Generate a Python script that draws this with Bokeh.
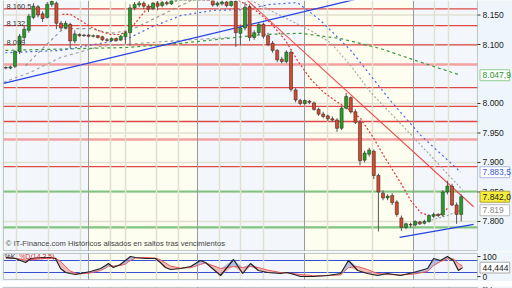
import numpy as np
from bokeh.plotting import figure
from bokeh.layouts import column
from bokeh.models import FixedTicker, Grid, Range1d, BoxAnnotation
from bokeh.core.properties import value
from bokeh.embed import file_html
from bokeh.resources import INLINE

# ---------------- data ----------------
opens = [8.061, 8.060, 8.063, 8.088, 8.112, 8.124, 8.146, 8.164, 8.152, 8.146,
         8.168, 8.170, 8.136, 8.128, 8.134, 8.106, 8.117, 8.115, 8.116, 8.114,
         8.115, 8.113, 8.108, 8.107, 8.110, 8.108, 8.113, 8.120, 8.162, 8.167,
         8.170, 8.165, 8.161, 8.170, 8.166, 8.171, 8.169, 8.175, 8.181, 8.184,
         8.187, 8.183, 8.188, 8.182, 8.179, 8.177, 8.167, 8.169, 8.172, 8.166,
         8.173, 8.119, 8.128, 8.164, 8.112, 8.120, 8.134, 8.115, 8.102, 8.090,
         8.075, 8.071, 8.087, 8.023, 8.005, 8.000, 8.004, 8.001, 7.990, 7.982,
         7.979, 7.974, 7.972, 7.958, 7.992, 8.010, 7.986, 7.968, 7.904, 7.914,
         7.919, 7.878, 7.848, 7.840, 7.844, 7.833, 7.806, 7.790, 7.795, 7.794,
         7.799, 7.797, 7.800, 7.809, 7.812, 7.811, 7.850, 7.860, 7.828, 7.812]
highs = [8.063, 8.064, 8.090, 8.118, 8.132, 8.152, 8.170, 8.167, 8.156, 8.172,
         8.180, 8.173, 8.140, 8.140, 8.137, 8.124, 8.119, 8.118, 8.118, 8.117,
         8.116, 8.115, 8.111, 8.112, 8.112, 8.116, 8.122, 8.168, 8.172, 8.174,
         8.173, 8.168, 8.172, 8.173, 8.174, 8.175, 8.177, 8.184, 8.188, 8.190,
         8.190, 8.190, 8.191, 8.185, 8.182, 8.179, 8.173, 8.175, 8.174, 8.176,
         8.178, 8.134, 8.172, 8.168, 8.124, 8.138, 8.137, 8.120, 8.106, 8.092,
         8.079, 8.090, 8.090, 8.026, 8.008, 8.007, 8.006, 8.003, 7.993, 7.986,
         7.981, 7.978, 7.975, 7.996, 8.018, 8.012, 7.990, 7.972, 7.920, 7.925,
         7.922, 7.881, 7.853, 7.846, 7.848, 7.836, 7.810, 7.798, 7.798, 7.802,
         7.801, 7.803, 7.812, 7.815, 7.814, 7.853, 7.869, 7.864, 7.832, 7.846]
lows = [8.058, 8.058, 8.060, 8.084, 8.106, 8.120, 8.143, 8.146, 8.138, 8.144,
        8.164, 8.126, 8.124, 8.126, 8.094, 8.102, 8.113, 8.113, 8.112, 8.112,
        8.110, 8.106, 8.105, 8.105, 8.105, 8.106, 8.101, 8.098, 8.158, 8.163,
        8.160, 8.155, 8.158, 8.158, 8.163, 8.166, 8.167, 8.172, 8.178, 8.181,
        8.180, 8.181, 8.180, 8.176, 8.174, 8.164, 8.164, 8.166, 8.163, 8.164,
        8.096, 8.098, 8.124, 8.106, 8.108, 8.116, 8.110, 8.097, 8.086, 8.070,
        8.068, 8.068, 8.020, 8.002, 7.997, 7.998, 7.999, 7.988, 7.979, 7.975,
        7.970, 7.969, 7.952, 7.955, 7.990, 7.983, 7.965, 7.895, 7.900, 7.910,
        7.872, 7.783, 7.836, 7.836, 7.828, 7.808, 7.784, 7.787, 7.790, 7.792,
        7.794, 7.795, 7.798, 7.806, 7.807, 7.808, 7.846, 7.826, 7.796, 7.800]
closes = [8.060, 8.062, 8.088, 8.114, 8.126, 8.148, 8.165, 8.150, 8.144, 8.168,
          8.173, 8.136, 8.128, 8.136, 8.106, 8.118, 8.115, 8.116, 8.114, 8.115,
          8.112, 8.108, 8.107, 8.110, 8.107, 8.114, 8.120, 8.162, 8.168, 8.170,
          8.165, 8.160, 8.170, 8.165, 8.171, 8.169, 8.175, 8.181, 8.184, 8.187,
          8.183, 8.188, 8.182, 8.179, 8.177, 8.167, 8.170, 8.172, 8.166, 8.173,
          8.120, 8.128, 8.163, 8.112, 8.120, 8.134, 8.114, 8.100, 8.090, 8.074,
          8.071, 8.087, 8.024, 8.006, 8.000, 8.005, 8.002, 7.990, 7.982, 7.978,
          7.974, 7.972, 7.958, 7.992, 8.012, 7.986, 7.968, 7.903, 7.916, 7.921,
          7.878, 7.850, 7.840, 7.843, 7.832, 7.812, 7.790, 7.796, 7.794, 7.800,
          7.796, 7.800, 7.810, 7.812, 7.810, 7.850, 7.860, 7.828, 7.812, 7.842]

# indicator lines (bar index, price)
red_ma_a_x = [12.3, 14.1, 16.2, 18.4, 20.6, 22.8, 24.9, 26.7, 28.2, 30.4, 32.5, 34.7]
red_ma_a_y = [8.151, 8.151, 8.141, 8.130, 8.122, 8.117, 8.117, 8.124, 8.137, 8.158, 8.170, 8.180]
red_ma_b_x = [50.6, 54.3, 57.5, 60.8, 63.4, 66.2, 69.1, 72.1, 75.0, 77.1, 79.9, 82.5, 85.8, 88.0, 90.2, 92.3, 94.5, 96.0]
red_ma_b_y = [8.175, 8.158, 8.137, 8.107, 8.073, 8.042, 8.019, 8.002, 7.988, 7.975, 7.942, 7.907, 7.866, 7.836, 7.815, 7.809, 7.812, 7.822]
gray_ma_a_x = [4.3, 8.6, 12.5, 18.4, 22.8, 27.1, 31.5, 38.0, 41.2]
gray_ma_a_y = [8.064, 8.098, 8.127, 8.127, 8.119, 8.124, 8.141, 8.166, 8.178]
gray_ma_b_x = [-0.5, 5.4, 11.9, 20.6, 29.3, 38.0, 48.8]
gray_ma_b_y = [8.036, 8.053, 8.078, 8.097, 8.102, 8.107, 8.112]
gray_ma_c_x = [53.2, 59.7, 66.2, 70.6, 75.0, 79.3, 85.8, 92.3, 96.7, 99.3]
gray_ma_c_y = [8.175, 8.149, 8.124, 8.103, 8.064, 8.019, 7.966, 7.912, 7.875, 7.853]
gray_ma_d_x = [89.1, 92.3, 95.6, 98.9]
gray_ma_d_y = [7.798, 7.802, 7.809, 7.819]
blue_ma_x = [-0.1, 11.9, 26.5, 31.5, 38.0, 45.2, 51.7, 57.5, 63.4, 68.4, 75.0, 83.6, 90.2, 98.9]
blue_ma_y = [8.086, 8.090, 8.110, 8.129, 8.149, 8.158, 8.159, 8.168, 8.171, 8.141, 8.090, 8.005, 7.946, 7.8835]
green_ma_x = [-0.1, 26.5, 38.0, 56.0, 64.1, 72.8, 81.5, 90.2, 98.9]
green_ma_y = [8.090, 8.095, 8.102, 8.117, 8.119, 8.110, 8.093, 8.070, 8.0479]
trend_blue_up_x = [-0.5, 80.0]
trend_blue_up_y = [8.034, 8.184]
trend_blue_low_x = [85.6, 101.7]
trend_blue_low_y = [7.773, 7.795]
trend_red_x = [52.5, 101.7]
trend_red_y = [8.175, 7.825]

price_ticks = [7.80, 7.85, 7.90, 7.95, 8.00, 8.10, 8.15]
price_tick_labels = ["7.800", "7.850", "7.900", "7.950", "8.000", "8.100", "8.150"]
red_levels = [8.1605, 8.132, 8.0995, 8.027, 7.995, 7.9695, 7.893]
pink_levels = [8.066, 7.939]
green_levels = [7.8508, 7.790]
left_level_values = [8.1605, 8.132, 8.0995]
left_level_texts = ["8.160,5", "8.132", "8.099"]
tag_values = [8.0479, 7.8835, 7.842, 7.819]
tag_texts = ["8.047,9", "7.883,5", "7.842,0", "7.819"]

day_lines = [2.33, 9.28, 16.24, 22.76, 26.02, 32.76, 37.54, 46.45, 51.02, 56.02, 69.93, 79.72, 93.2, 96.24]
month_lines = [17.98, 41.67, 64.93, 88.63]

stoch_x = [0, 2.1, 4.3, 5.4, 7.5, 9.7, 10.8, 11.9, 13.0, 14.0, 15.2, 16.2, 18.4, 20.6, 21.7, 22.3,
           23.4, 24.9, 26.0, 27.1, 28.2, 30.4, 32.5, 33.6, 34.7, 35.8, 38.0, 40.2, 42.3, 43.4, 46.7,
           49.5, 51.5, 53.2, 54.9, 56.9, 59.7, 61.2, 64.1, 66.9, 69.9, 72.8, 74.5, 76.5, 78.6, 80.8,
           83.0, 85.8, 88.6, 91.7, 93.0, 94.5, 96.0, 97.3, 98.4, 99.3]
stoch_k = [95, 90, 70, 90, 95, 95, 90, 40, 20, 15, 10, 15, 25, 40, 55, 65, 45, 60, 80, 100,
           95, 90, 90, 70, 45, 35, 40, 50, 80, 70, 5, 85, 15, 65, 30, 20, 15, 20, 0, 0,
           5, 15, 80, 30, 15, 5, 15, 5, 20, 40, 90, 80, 100, 80, 30, 44.4]
stoch_d = [92, 91, 82, 84, 88, 93, 92, 75, 50, 28, 16, 13, 18, 30, 42, 52, 52, 55, 62, 80,
           92, 95, 92, 84, 68, 52, 42, 44, 60, 68, 40, 50, 45, 50, 45, 32, 20, 18, 10, 4,
           4, 8, 45, 50, 35, 15, 10, 8, 12, 25, 55, 75, 88, 88, 65, 52]
stoch_levels = [80, 20]
stoch_ticks = [0, 100]
stoch_tick_labels = ["0", "100"]
stoch_last = 44.444

osc_x = [0, 5, 6.5, 8, 9.5, 11, 12, 26, 27.5, 29, 31, 32.5, 34, 35, 94, 95.5, 96.5, 97.5, 99]
osc_v = [10, 10, 20.2, 20.6, 20.3, 19.5, 10, 10, 20.3, 20.7, 20.6, 20.2, 19.5, 10, 10, 20.3, 20.8, 20.2, 10]

# ---------------- styling / geometry ----------------
FONT = value("Liberation Sans")
BG_YEL = "#fdfdf0"
BG_BLU = "#f3f7fb"
BORDER = "#eef6fb"
XMIN, XMAX = -1.152, 110.152      # whole canvas width
X0, X1 = -0.5, 102.54             # plotting area of every panel
TICK_X1 = X1 + 0.65
LABEL_X = X1 + 1.1
TAG_L, TAG_R = X1 + 0.55, X1 + 7.0
xr = Range1d(XMIN, XMAX)
breaks = [X0] + month_lines + [X1]


def make(height, y0, y1):
    p = figure(width=512, height=height, x_range=xr, y_range=Range1d(y0, y1),
               output_backend="svg", toolbar_location=None, title=None,
               x_axis_location=None, y_axis_location=None,
               min_border_left=0, min_border_right=0, min_border_top=0, min_border_bottom=0)
    p.background_fill_color = BG_YEL
    p.border_fill_color = BORDER
    p.outline_line_color = None
    p.xgrid.visible = False
    p.ygrid.visible = False
    for k in range(len(breaks) - 1):
        if k % 2 == 0:
            p.quad(left=breaks[k], right=breaks[k + 1], bottom=y0 - 1, top=y1 + 1,
                   fill_color=BG_BLU, line_color=None, level="image")
    p.add_layout(Grid(dimension=0, ticker=FixedTicker(ticks=day_lines),
                      grid_line_color="#e2e0d0", grid_line_width=1.5))
    p.add_layout(Grid(dimension=0, ticker=FixedTicker(ticks=month_lines),
                      grid_line_color="#9a9a9a", grid_line_width=1))
    return p


def frame_and_margin(p, y0, y1, top, bottom):
    p.quad(left=[XMIN, X1], right=[X0, XMAX], bottom=y0 - 1, top=y1 + 1,
           fill_color=BORDER, line_color=None)
    p.quad(left=XMIN, right=XMAX, bottom=[y0 - 1, top], top=[bottom, y1 + 1],
           fill_color=BORDER, line_color=None)


def outline(p, top, bottom):
    p.add_layout(BoxAnnotation(left=X0, right=X1, bottom=bottom, top=top, fill_alpha=0,
                               line_color="#4e5a5a", line_width=1, level="overlay"))


def tag(p, y, half, text, tc, bg, bc):
    p.quad(left=TAG_L, right=TAG_R, bottom=y - half, top=y + half,
           fill_color=bg, line_color=bc, line_width=1)
    p.text(x=[LABEL_X], y=[y], text=[text], text_font=FONT, text_font_size="8.5px",
           text_color=tc, text_baseline="middle")


def axis_labels(p, ticks, labels):
    p.segment(x0=[X1] * len(ticks), y0=ticks, x1=[TICK_X1] * len(ticks), y1=ticks,
              line_color="#333333", line_width=1)
    p.text(x=[LABEL_X] * len(ticks), y=ticks, text=labels, text_font=FONT,
           text_font_size="8.5px", text_color="#222222", text_baseline="middle")


# ---------------- main price panel ----------------
PX = 0.4238 / 250.0
Y_TOP, Y_BOT = 8.1746, 7.7508
p1 = make(251, Y_BOT - PX, Y_TOP)
p1.segment(x0=X0, x1=X1, y0=price_ticks, y1=price_ticks, line_color="#e2e0d0",
           line_width=1.5, level="underlay")
p1.segment(x0=X0, x1=X1, y0=red_levels, y1=red_levels, line_color="#e04848",
           line_width=1.3, level="underlay")
p1.segment(x0=X0, x1=X1, y0=pink_levels, y1=pink_levels, line_color="#f3a0a0",
           line_width=2.5, level="underlay")
p1.segment(x0=X0, x1=X1, y0=green_levels, y1=green_levels, line_color="#80c480",
           line_width=2.2, level="underlay")

p1.line(gray_ma_b_x, gray_ma_b_y, line_color="#a0a0a0", line_width=1.1, line_dash="3 3")
p1.line(gray_ma_a_x, gray_ma_a_y, line_color="#909090", line_width=1.1, line_dash="3 3")
p1.line(gray_ma_c_x, gray_ma_c_y, line_color="#a0a0a0", line_width=1.1, line_dash="2 2")
p1.line(gray_ma_d_x, gray_ma_d_y, line_color="#a0a0a0", line_width=1.1, line_dash="2 2")
p1.line(green_ma_x, green_ma_y, line_color="#3a9a3a", line_width=1.2, line_dash="3 3")
p1.line(blue_ma_x, blue_ma_y, line_color="#4a64e0", line_width=1.2, line_dash="2 3")
p1.line(red_ma_a_x, red_ma_a_y, line_color="#e03434", line_width=1.2, line_dash="2 2")
p1.line(red_ma_b_x, red_ma_b_y, line_color="#e03434", line_width=1.2, line_dash="2 2")
p1.line(trend_blue_up_x, trend_blue_up_y, line_color="#2642e6", line_width=1.3)
p1.line(trend_blue_low_x, trend_blue_low_y, line_color="#2642e6", line_width=1.3)
p1.line(trend_red_x, trend_red_y, line_color="#ec4a4a", line_width=1.1)

o = np.array(opens)
c = np.array(closes)
idx = np.arange(len(c))
up = c >= o
p1.segment(idx, lows, idx, highs, line_color="#555555", line_width=1)
p1.vbar(x=idx[up], bottom=o[up], top=c[up], width=0.66,
        fill_color="#22a022", line_color="#2e3a2e", line_width=0.6)
p1.vbar(x=idx[~up], bottom=c[~up], top=o[~up], width=0.66,
        fill_color="#d8482a", line_color="#3a2e2e", line_width=0.6)

frame_and_margin(p1, Y_BOT - PX, Y_TOP, Y_TOP, Y_BOT)
outline(p1, Y_TOP + PX, Y_BOT)

p1.text(x=[0.15] * 3, y=left_level_values, text=left_level_texts, text_font=FONT,
        text_font_size="7.5px", text_color="#333333", text_baseline="bottom")
p1.text(x=[0.0], y=[Y_TOP - 243 * PX],
        text=["© IT-Finance.com  Históricos alisados en saltos tras vencimientos"],
        text_font=FONT, text_font_size="7.6px", text_color="#444444", text_baseline="middle")

axis_labels(p1, price_ticks, price_tick_labels)
tag_styles = [("#2f8f2f", "#ffffff", "#8fcf8f"), ("#3a5ad0", "#ffffff", "#a8b8e0"),
              ("#222222", "#f6ee3a", "#b0a040"), ("#888888", "#ffffff", "#bbbbbb")]
for v, t, (tc, bg, bc) in zip(tag_values, tag_texts, tag_styles):
    tag(p1, v, 5.5 * PX, t, tc, bg, bc)

# ---------------- stochastic panel ----------------
S_TOP, S_BOT = 115, -15
p2 = make(30, -25, 125)
p2.segment(x0=X0, x1=X1, y0=stoch_levels, y1=stoch_levels, line_color="#3a4ed0",
           line_width=1.2, level="underlay")
k = np.array(stoch_k, dtype=float)
d = np.array(stoch_d, dtype=float)
p2.varea(x=stoch_x, y1=d, y2=np.maximum(k, d), fill_color="#8a9ad8", fill_alpha=0.6)
p2.varea(x=stoch_x, y1=np.minimum(k, d), y2=d, fill_color="#f2a0a0", fill_alpha=0.7)
p2.line(stoch_x, stoch_d, line_color="#e85a5a", line_width=1)
p2.line(stoch_x, stoch_k, line_color="#222222", line_width=1.2)
frame_and_margin(p2, -25, 125, S_TOP, S_BOT)
outline(p2, S_TOP, S_BOT)
p2.text(x=[-0.3], y=[100], text=["%K"], text_font=FONT, text_font_size="7px",
        text_color="#333333", text_baseline="middle")
p2.text(x=[2.9], y=[100], text=["%D(14,3,5)"], text_font=FONT, text_font_size="7px",
        text_color="#e03030", text_baseline="middle")
axis_labels(p2, stoch_ticks, stoch_tick_labels)
tag(p2, stoch_last, 27, "44,444", "#222222", "#ffffff", "#aaaaaa")

# ---------------- third panel (cut off at the bottom) ----------------
O_TOP = 21.0
p3 = make(7, 19.0, 21.3333)
p3.varea(x=osc_x, y1=0, y2=osc_v, fill_color="#a8d8a0", fill_alpha=1)
p3.line(osc_x, osc_v, line_color="#3a9a3a", line_width=1)
frame_and_margin(p3, 19.0, 21.3333, O_TOP, 0)
outline(p3, O_TOP, 0)
p3.text(x=[0.0], y=[21.3], text=["Nov(14)"], text_font=FONT, text_font_size="5px",
        text_color="#222222", text_baseline="top")
p3.text(x=[LABEL_X], y=[21.3], text=["20,4"], text_font=FONT, text_font_size="5px",
        text_color="#222222", text_baseline="top")

layout = column(p1, p2, p3, spacing=0)
open("out.html", "w").write(file_html(layout, INLINE))
